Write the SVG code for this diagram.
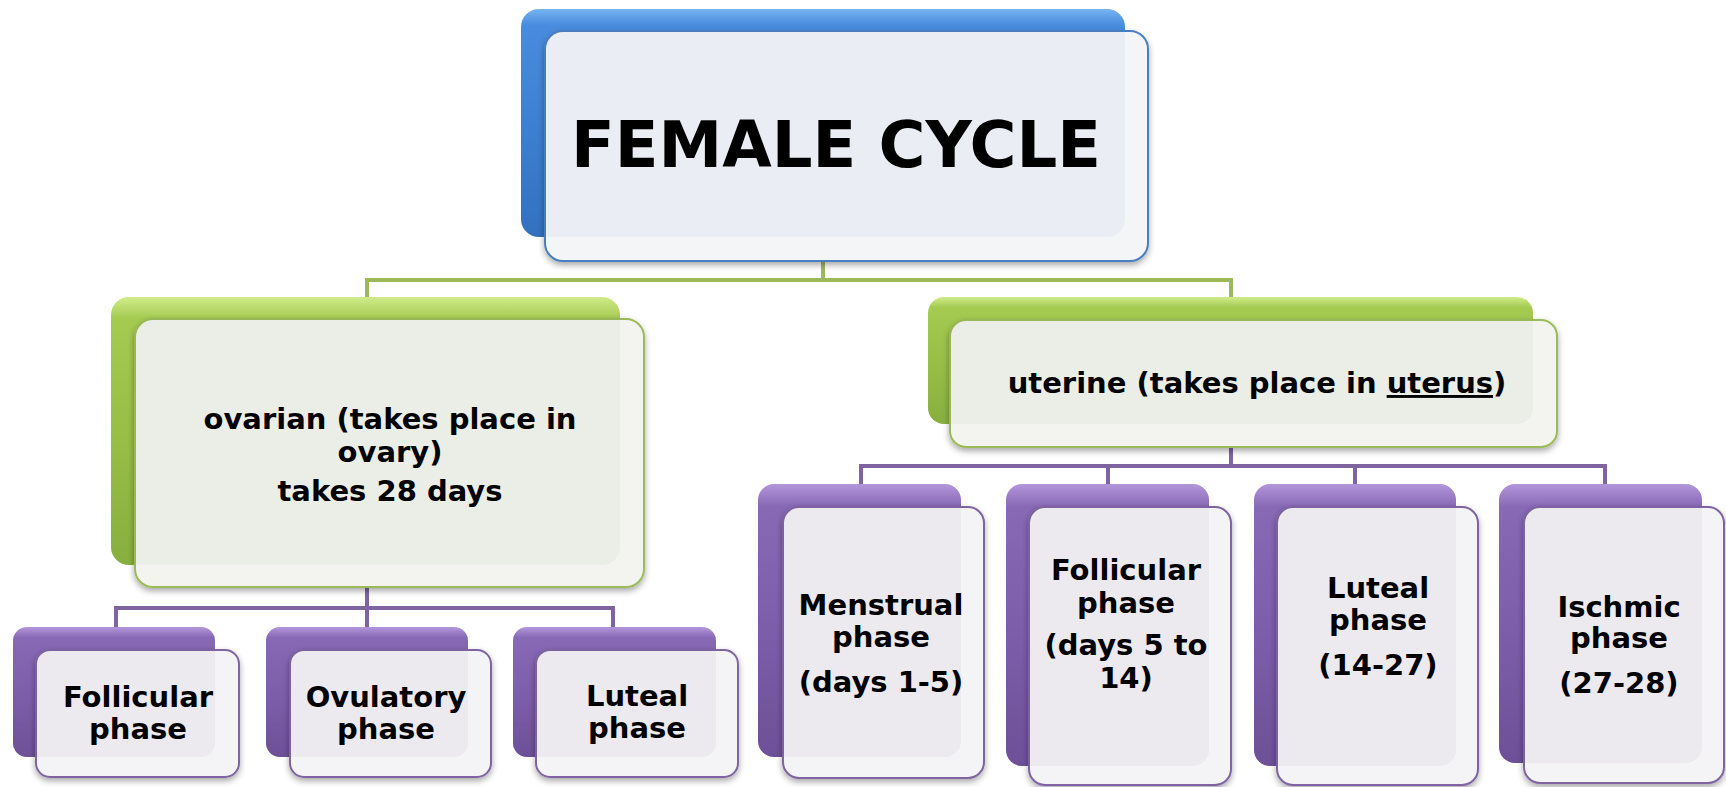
<svg xmlns="http://www.w3.org/2000/svg" width="1726" height="787" viewBox="0 0 1726 787">
<defs>
<linearGradient id="gBlue" x1="0" y1="0" x2="0" y2="1">
<stop offset="0" stop-color="#7ab8f5"/><stop offset="0.07" stop-color="#4a8fe0"/><stop offset="0.5" stop-color="#3e82d3"/><stop offset="1" stop-color="#3372c0"/>
</linearGradient>
<linearGradient id="gGreen" x1="0" y1="0" x2="0" y2="1">
<stop offset="0" stop-color="#d6f28e"/><stop offset="0.08" stop-color="#a9d052"/><stop offset="0.5" stop-color="#9cc347"/><stop offset="1" stop-color="#8ab33e"/>
</linearGradient>
<linearGradient id="gPurple" x1="0" y1="0" x2="0" y2="1">
<stop offset="0" stop-color="#b89be2"/><stop offset="0.08" stop-color="#8a6bb9"/><stop offset="0.5" stop-color="#7f5fae"/><stop offset="1" stop-color="#6e519a"/>
</linearGradient>
<filter id="sh" x="-10%" y="-10%" width="120%" height="125%">
<feDropShadow dx="0" dy="3" stdDeviation="3" flood-color="#000" flood-opacity="0.35"/>
</filter>
</defs>
<style>
.fb{fill:#f4f5f7;stroke:#4a7fc1;stroke-width:2;filter:url(#sh)}
.fg{fill:#f3f4f0;stroke:#9bbb59;stroke-width:2;filter:url(#sh)}
.fp{fill:#f4f3f6;stroke:#8064a2;stroke-width:2;filter:url(#sh)}
.ov{opacity:0.05}
.t{font-family:"DejaVu Sans","Verdana",sans-serif;font-weight:bold;fill:#000;text-anchor:middle}
.cg{stroke:#9bbb59;stroke-width:4;fill:none}
.cp{stroke:#8064a2;stroke-width:4;fill:none}
</style>

<g id="connectors">
<path class="cg" d="M823 261 V280 M367 280 H1231 M367 278 V297 M1231 278 V297"/>
<path class="cp" d="M367 587 V608 M116 608 H613 M116 606 V627 M367 606 V627 M613 606 V627"/>
<path class="cp" d="M1231 447 V466 M861 466 H1605 M861 464 V484 M1108 464 V484 M1355 464 V484 M1605 464 V484"/>
</g>

<g id="node-female-cycle">
<rect x="521" y="9" width="604" height="228" rx="18" fill="url(#gBlue)"/>
<rect class="fb" x="545" y="31" width="603" height="230" rx="18"/>
<rect class="ov" x="521" y="9" width="604" height="228" rx="18" fill="#3c6ab0"/>
<text class="t" x="836" y="167" font-size="64">FEMALE CYCLE</text>
</g>

<g id="node-ovarian">
<rect x="111" y="297" width="509" height="268" rx="18" fill="url(#gGreen)"/>
<rect class="fg" x="135" y="319" width="509" height="268" rx="18"/>
<rect class="ov" x="111" y="297" width="509" height="268" rx="18" fill="#6a7a50"/>
<text class="t" x="390" y="429" font-size="29">ovarian (takes place in</text>
<text class="t" x="390" y="462" font-size="29">ovary)</text>
<text class="t" x="390" y="501" font-size="29">takes 28 days</text>
</g>

<g id="node-uterine">
<rect x="928" y="297" width="605" height="127" rx="16" fill="url(#gGreen)"/>
<rect class="fg" x="950" y="320" width="607" height="127" rx="16"/>
<rect class="ov" x="928" y="297" width="605" height="127" rx="16" fill="#6a7a50"/>
<text class="t" x="1257" y="393" font-size="29">uterine (takes place in <tspan text-decoration="underline">uterus</tspan>)</text>
</g>

<g id="node-follicular-ov">
<rect x="13" y="627" width="202" height="130" rx="14" fill="url(#gPurple)"/>
<rect class="fp" x="36" y="650" width="203" height="127" rx="14"/>
<rect class="ov" x="13" y="627" width="202" height="130" rx="14" fill="#5a4a70"/>
<text class="t" x="138" y="707" font-size="29">Follicular</text>
<text class="t" x="138" y="739" font-size="29">phase</text>
</g>

<g id="node-ovulatory">
<rect x="266" y="627" width="202" height="130" rx="14" fill="url(#gPurple)"/>
<rect class="fp" x="290" y="650" width="201" height="127" rx="14"/>
<rect class="ov" x="266" y="627" width="202" height="130" rx="14" fill="#5a4a70"/>
<text class="t" x="386" y="707" font-size="29">Ovulatory</text>
<text class="t" x="386" y="739" font-size="29">phase</text>
</g>

<g id="node-luteal-ov">
<rect x="513" y="627" width="203" height="130" rx="14" fill="url(#gPurple)"/>
<rect class="fp" x="536" y="650" width="202" height="127" rx="14"/>
<rect class="ov" x="513" y="627" width="203" height="130" rx="14" fill="#5a4a70"/>
<text class="t" x="637" y="706" font-size="29">Luteal</text>
<text class="t" x="637" y="738" font-size="29">phase</text>
</g>

<g id="node-menstrual">
<rect x="758" y="484" width="203" height="273" rx="16" fill="url(#gPurple)"/>
<rect class="fp" x="783" y="507" width="201" height="271" rx="16"/>
<rect class="ov" x="758" y="484" width="203" height="273" rx="16" fill="#5a4a70"/>
<text class="t" x="881" y="615" font-size="29">Menstrual</text>
<text class="t" x="881" y="647" font-size="29">phase</text>
<text class="t" x="881" y="692" font-size="29">(days 1-5)</text>
</g>

<g id="node-follicular-ut">
<rect x="1006" y="484" width="203" height="282" rx="16" fill="url(#gPurple)"/>
<rect class="fp" x="1029" y="507" width="202" height="278" rx="16"/>
<rect class="ov" x="1006" y="484" width="203" height="282" rx="16" fill="#5a4a70"/>
<text class="t" x="1126" y="580" font-size="29">Follicular</text>
<text class="t" x="1126" y="613" font-size="29">phase</text>
<text class="t" x="1126" y="655" font-size="29">(days 5 to</text>
<text class="t" x="1126" y="688" font-size="29">14)</text>
</g>

<g id="node-luteal-ut">
<rect x="1254" y="484" width="202" height="282" rx="16" fill="url(#gPurple)"/>
<rect class="fp" x="1277" y="507" width="201" height="278" rx="16"/>
<rect class="ov" x="1254" y="484" width="202" height="282" rx="16" fill="#5a4a70"/>
<text class="t" x="1378" y="598" font-size="29">Luteal</text>
<text class="t" x="1378" y="630" font-size="29">phase</text>
<text class="t" x="1378" y="675" font-size="29">(14-27)</text>
</g>

<g id="node-ischmic">
<rect x="1499" y="484" width="203" height="279" rx="16" fill="url(#gPurple)"/>
<rect class="fp" x="1524" y="507" width="200" height="276" rx="16"/>
<rect class="ov" x="1499" y="484" width="203" height="279" rx="16" fill="#5a4a70"/>
<text class="t" x="1619" y="617" font-size="29">Ischmic</text>
<text class="t" x="1619" y="648" font-size="29">phase</text>
<text class="t" x="1619" y="693" font-size="29">(27-28)</text>
</g>
</svg>
